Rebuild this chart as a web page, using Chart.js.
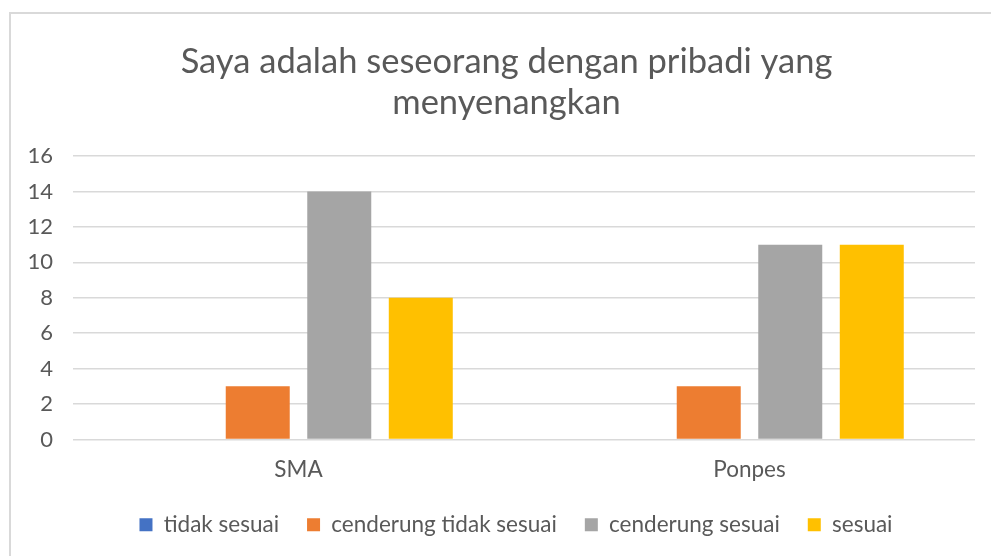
<!DOCTYPE html>
<html>
<head>
<meta charset="utf-8">
<script src="https://cdn.jsdelivr.net/npm/chart.js@4"></script>
<style>
  html, body { margin: 0; padding: 0; background: #fff; }
  #wrap { position: relative; width: 991px; height: 556px; }
  #frame { position: absolute; left: 9px; top: 12px; width: 982px; height: 544px;
           border-left: 2px solid #d9d9d9; border-top: 2px solid #d9d9d9; box-sizing: border-box; pointer-events: none; }
  canvas { position: absolute; left: 0; top: 0; }
</style>
</head>
<body>
<div id="wrap">
  <canvas id="c" width="991" height="556"></canvas>
  <div id="frame"></div>
</div>
<script>
const titleLines = ["Saya adalah seseorang dengan pribadi yang", "menyenangkan"];
const categories = ["SMA", "Ponpes"];
const seriesNames = ["tidak sesuai", "cenderung tidak sesuai", "cenderung sesuai", "sesuai"];
const tidakSesuai = [0, 0];
const cenderungTidakSesuai = [3, 3];
const cenderungSesuai = [14, 11];
const sesuai = [8, 11];
const yTicks = [0, 2, 4, 6, 8, 10, 12, 14, 16];
const colors = ["#4472c4", "#ed7d31", "#a5a5a5", "#ffc000"];

const seriesValues = [tidakSesuai, cenderungTidakSesuai, cenderungSesuai, sesuai];
const FONT = "Lato, 'Open Sans', sans-serif";
const TXT = "#595959";

const shiftPlugin = {
  id: "shiftBoxes",
  afterLayout(chart) {
    if (chart.titleBlock) { chart.titleBlock.left += 13; chart.titleBlock.right += 13; }
    if (chart.legend) { chart.legend.left -= 8; chart.legend.right -= 8; }
  }
};

new Chart(document.getElementById("c"), {
  type: "bar",
  data: {
    labels: categories,
    datasets: seriesNames.map((n, i) => ({
      label: n,
      data: seriesValues[i],
      backgroundColor: colors[i],
      borderWidth: 0,
      categoryPercentage: 0.723,
      barPercentage: 0.785
    }))
  },
  plugins: [shiftPlugin],
  options: {
    responsive: false,
    animation: false,
    layout: { padding: { left: 12, right: 16, top: 0, bottom: 10 } },
    plugins: {
      tooltip: { enabled: false },
      title: {
        display: true,
        text: titleLines,
        color: TXT,
        font: { family: FONT, size: 34.5, weight: "normal", lineHeight: 1.19 },
        padding: { top: 41, bottom: 33 }
      },
      legend: {
        position: "bottom",
        fullSize: false,
        labels: {
          color: TXT,
          font: { family: FONT, size: 22.5 },
          boxWidth: 13,
          boxHeight: 13,
          padding: 28
        }
      }
    },
    scales: {
      x: {
        grid: { display: false },
        border: { display: false },
        ticks: { color: TXT, font: { family: FONT, size: 22.5 }, padding: 9 },
        afterFit: s => { s.height = 46; }
      },
      y: {
        min: 0, max: 16,
        afterBuildTicks: s => { s.ticks = yTicks.map(v => ({ value: v })); },
        grid: { color: "#d9d9d9", lineWidth: 1.5, drawTicks: false },
        border: { display: false },
        ticks: { color: TXT, font: { family: FONT, size: 22 }, padding: 20 },
        afterFit: s => { s.width = 61; }
      }
    }
  }
});
</script>
</body>
</html>
